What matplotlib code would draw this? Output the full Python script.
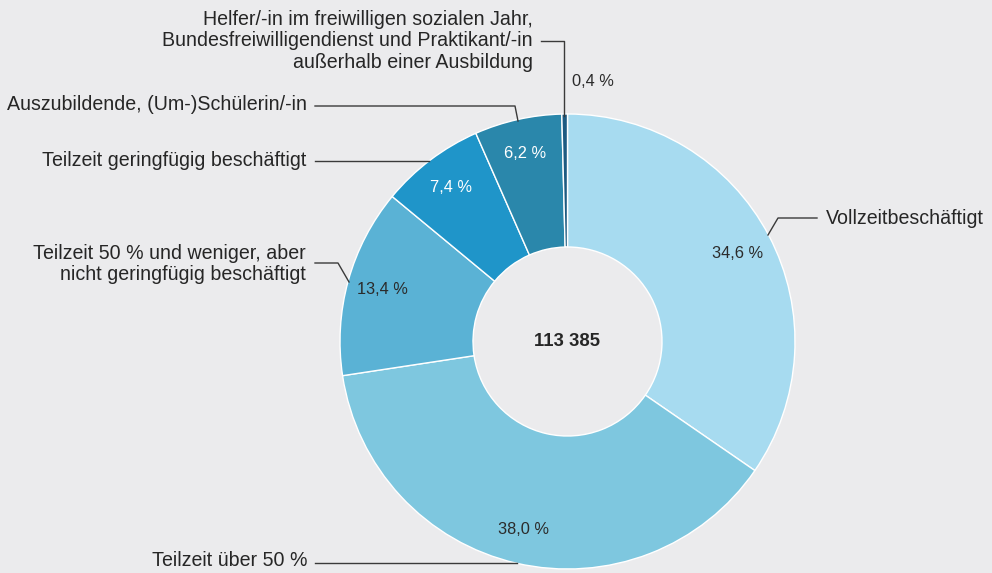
import matplotlib.pyplot as plt

plt.rcParams['font.family'] = ['Liberation Sans', 'DejaVu Sans']

# data
labels = ["Vollzeitbeschäftigt",
          "Teilzeit über 50 %",
          "Teilzeit 50 % und weniger, aber\nnicht geringfügig beschäftigt",
          "Teilzeit geringfügig beschäftigt",
          "Auszubildende, (Um-)Schülerin/-in",
          "Helfer/-in im freiwilligen sozialen Jahr,\nBundesfreiwilligendienst und Praktikant/-in\naußerhalb einer Ausbildung"]
shares = [34.6, 38.0, 13.4, 7.4, 6.2, 0.4]
total = "113 385"

colors = ["#a7dbf0", "#7ec7df", "#5ab2d5", "#1f95c9", "#2a87ab", "#1d5b82"]
pct_colors = ["#2b2b2b", "#2b2b2b", "#2b2b2b", "white", "white", "#2b2b2b"]
bg = "#ebebed"
txt = "#262626"

W, H = 992, 573
cx, cy = 567.5, 341.5
R, r_in = 227.5, 94.5

def Y(y):
    return H - y

fig = plt.figure(figsize=(W / 100, H / 100), dpi=100, facecolor=bg)
ax = fig.add_axes([0, 0, 1, 1])
ax.set_facecolor(bg)

ax.pie(shares, colors=colors, startangle=90, counterclock=False,
       radius=R, center=(cx, Y(cy)),
       wedgeprops=dict(width=R - r_in, edgecolor="white", linewidth=1))
ax.set_xlim(0, W)
ax.set_ylim(0, H)
ax.set_aspect("equal")
ax.axis("off")

# centre value
ax.text(cx, Y(342), total, ha="center", va="center", fontsize=13.3,
        fontweight="bold", color=txt)

# percentage labels (pixel positions)
pct_pos = [(738, 253), (523, 530), (382, 290), (451, 187), (525, 153), (593, 81)]
for v, (px, py), c in zip(shares, pct_pos, pct_colors):
    s = f"{v:.1f}".replace(".", ",") + " %"
    ax.text(px, Y(py), s, ha="center", va="center", fontsize=11.8, color=c)

# category labels
lab_pos = [(826, 218, "left"), (307, 561, "right"), (306, 264, "right"),
           (306, 160, "right"), (307, 105, "right"), (533, 41, "right")]
for lab, (px, py, ha) in zip(labels, lab_pos):
    ax.text(px, Y(py), lab, ha=ha, va="center", multialignment=ha,
            fontsize=14.1, color=txt, linespacing=1.18)

# leader lines
leaders = [
    [(768, 235), (778, 218), (817, 218)],
    [(315, 563), (517, 563)],
    [(315, 263), (338, 263), (349, 282)],
    [(315, 161), (429, 161)],
    [(315, 106), (515, 106), (518, 121)],
    [(541, 41), (564, 41), (564, 116)],
]
for pts in leaders:
    xs = [p[0] for p in pts]
    ys = [Y(p[1]) for p in pts]
    ax.plot(xs, ys, color="#3a3a3a", linewidth=1)

fig.savefig("out.png", dpi=100, facecolor=bg)
